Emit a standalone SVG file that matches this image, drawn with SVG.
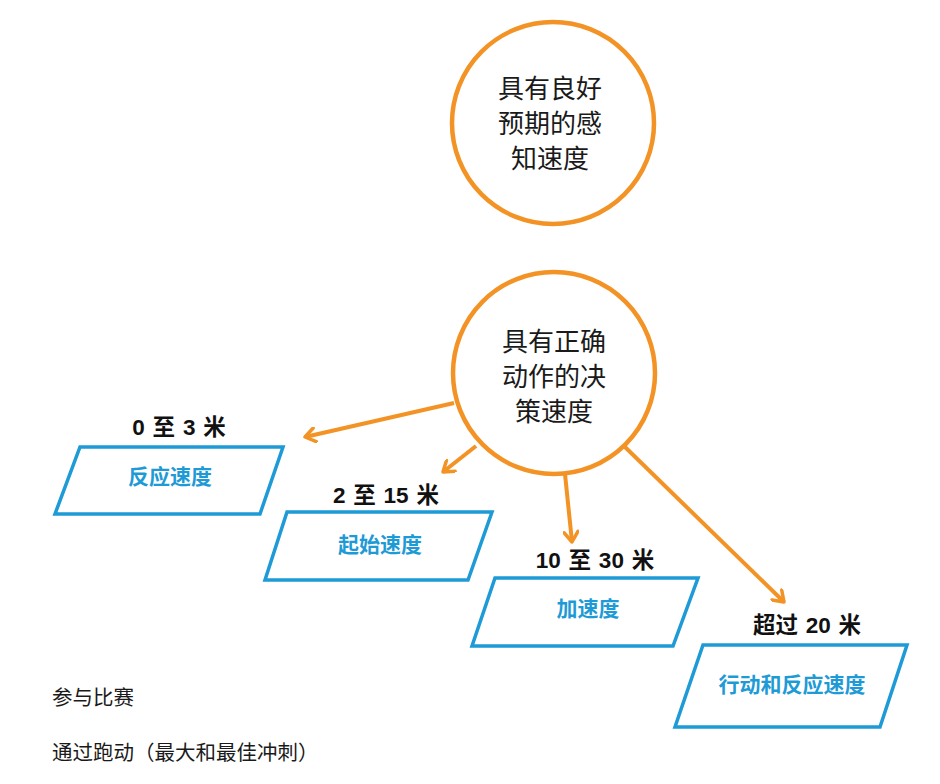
<svg xmlns="http://www.w3.org/2000/svg" width="940" height="784" viewBox="0 0 940 784">
<style>
.circ{fill:#fff;stroke:#F39325;stroke-width:4.5}
.ctext{font-family:"Noto Sans CJK SC","Liberation Sans",sans-serif;font-size:26px;fill:#1a1a1a;text-anchor:middle}
.para{fill:#fff;stroke:#1E9AD6;stroke-width:3.5;stroke-linejoin:miter}
.ptext{font-family:"Liberation Sans","Noto Sans CJK SC",sans-serif;font-size:21px;font-weight:bold;fill:#1E9AD6;text-anchor:middle}
.dist{font-family:"Liberation Sans","Noto Sans CJK SC",sans-serif;font-size:22.5px;font-weight:bold;fill:#111;text-anchor:middle;word-spacing:1.5px}
.note{font-family:"Noto Sans CJK SC","Liberation Sans",sans-serif;font-size:20.5px;fill:#1a1a1a}
.conn{stroke:#F39325;stroke-width:4;fill:none;marker-end:url(#arr)}
</style>
<defs>
<marker id="arr" viewBox="0 0 16 16" refX="13" refY="8" markerWidth="16" markerHeight="16" markerUnits="userSpaceOnUse" orient="auto">
<path d="M3,1 L13,8 L3,15" fill="none" stroke="#F39325" stroke-width="3.5" stroke-linecap="round" stroke-linejoin="round"/>
</marker>
</defs>
<rect width="940" height="784" fill="#fff"/>
<g id="connectors">
<line class="conn" x1="454" y1="403" x2="305" y2="437"/>
<line class="conn" x1="476" y1="446" x2="443" y2="472"/>
<line class="conn" x1="565" y1="474" x2="572" y2="542"/>
<line class="conn" x1="625" y1="447" x2="784" y2="602"/>
</g>
<g id="circle-perception">
<circle class="circ" cx="553" cy="123" r="101"/>
<text class="ctext" x="550" y="98">具有良好</text>
<text class="ctext" x="550" y="133">预期的感</text>
<text class="ctext" x="550" y="168">知速度</text>
</g>
<g id="circle-decision">
<circle class="circ" cx="554" cy="373" r="101"/>
<text class="ctext" x="554" y="351">具有正确</text>
<text class="ctext" x="554" y="386">动作的决</text>
<text class="ctext" x="554" y="421">策速度</text>
</g>
<g id="node-reaction">
<text class="dist" x="179" y="435">0 至 3 米</text>
<polygon class="para" points="80,447 283,447 260,514 55,514"/>
<text class="ptext" x="170" y="484">反应速度</text>
</g>
<g id="node-start">
<text class="dist" x="386" y="503">2 至 15 米</text>
<polygon class="para" points="287,512 492,512 468,580 265,580"/>
<text class="ptext" x="380" y="552">起始速度</text>
</g>
<g id="node-accel">
<text class="dist" x="595" y="568">10 至 30 米</text>
<polygon class="para" points="495,578 698,578 673,646 472,646"/>
<text class="ptext" x="588" y="616">加速度</text>
</g>
<g id="node-action">
<text class="dist" x="807" y="633">超过 20 米</text>
<polygon class="para" points="703,645 907,645 880,727 675,727"/>
<text class="ptext" x="792" y="692">行动和反应速度</text>
</g>
<g id="notes">
<text class="note" x="52" y="705">参与比赛</text>
<text class="note" x="52" y="760">通过跑动（最大和最佳冲刺）</text>
</g>
</svg>
